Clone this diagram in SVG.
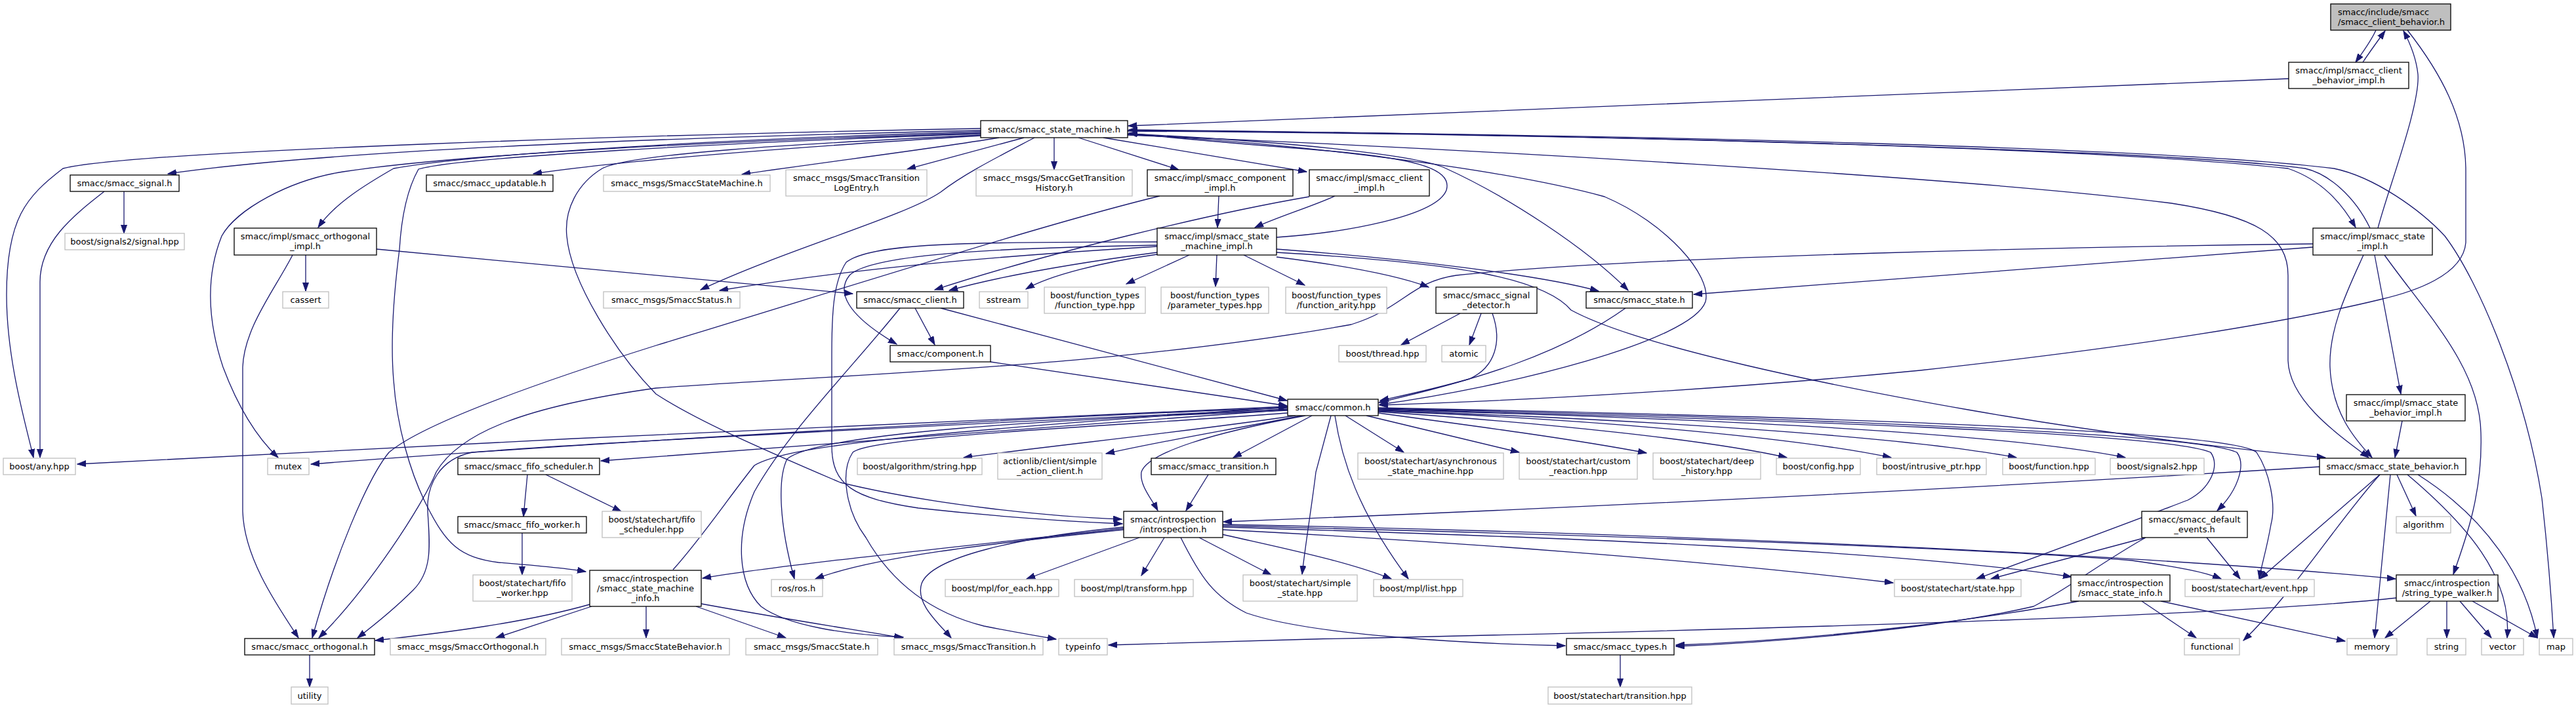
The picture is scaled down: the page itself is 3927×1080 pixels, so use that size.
<svg xmlns="http://www.w3.org/2000/svg" width="3927" height="1080" viewBox="0 0 3927 1080">
<style>
rect{stroke-width:1.3}
.n rect{fill:#fff;stroke:#000}
.x rect{fill:#fff;stroke:#bfbfbf}
.t rect{fill:#bfbfbf;stroke:#000}
text{font-family:"DejaVu Sans","Liberation Sans",sans-serif;font-size:13px;fill:#000;text-anchor:middle}
#edges path{fill:none;stroke:#191970;stroke-width:1.3}
</style>
<defs>
<marker id="a" markerUnits="userSpaceOnUse" markerWidth="14" markerHeight="10" refX="13" refY="5" orient="auto"><path d="M0,0.5 L13,5 L0,9.5 z" fill="#191970" stroke="#191970" stroke-width="1"/></marker>
</defs>
<rect width="3927" height="1080" fill="#fff"/>
<g id="edges" marker-end="url(#a)">
<path d="M3622,46 C3614,64 3600,82 3591,95"/>
<path d="M3602,95 C3612,80 3625,62 3636,47"/>
<path d="M3670,46 C3720,110 3759,180 3759,260 L3759,370 C3755,420 3680,445 3628,457 C3450,500 3200,535 2927,565 C2650,592 2350,610 2103,618"/>
<path d="M3625,348 C3640,290 3690,160 3686,113 C3683,85 3672,62 3664,47"/>
<path d="M3489,120 C3000,140 2200,172 1720,192"/>
<path d="M1495,199 C1000,210 500,230 256,265"/>
<path d="M1495,196 C1000,205 200,230 96,257 C40,300 10,333 10,450 C10,550 40,650 51,698"/>
<path d="M159,292 C110,330 61,370 61,430 L61,698"/>
<path d="M189,292 L189,356"/>
<path d="M1495,203 C1100,215 700,235 523,262 C440,275 360,320 338,360 C310,430 320,500 340,560 C370,640 405,680 424,698"/>
<path d="M1495,201 C1100,212 720,235 600,257 C560,280 510,310 485,347"/>
<path d="M1495,204 C1100,218 700,240 638,258 C620,290 612,330 609,380 C600,450 595,520 600,580 C605,650 625,720 650,770 C680,830 700,850 760,858 C810,862 860,866 893,872"/>
<path d="M1495,207 C1200,225 950,245 813,265"/>
<path d="M1523,210 C1400,230 1250,248 1131,266"/>
<path d="M1561,210 L1383,258"/>
<path d="M1607,210 L1607,259"/>
<path d="M1644,210 L1797,259"/>
<path d="M1682,210 L1992,262"/>
<path d="M1577,210 C1520,240 1470,265 1434,293 C1380,330 1200,380 1068,442"/>
<path d="M1768,299 C1600,340 1350,420 1000,527 C800,590 640,650 593,690 C560,730 510,850 476,973"/>
<path d="M1996,300 C1850,325 1600,385 1425,442"/>
<path d="M1858,299 L1856,347"/>
<path d="M2035,299 C2000,315 1950,330 1913,347"/>
<path d="M1495,206 C1200,220 960,235 918,257 C880,280 860,320 864,360 C870,430 940,540 1000,601 C1060,640 1150,680 1281,736 C1420,770 1600,788 1710,792"/>
<path d="M466,389 L466,444"/>
<path d="M574,380 L1300,448"/>
<path d="M446,389 C420,440 372,500 370,560 L370,780 C372,850 420,920 455,973"/>
<path d="M1764,376 C1500,392 1300,410 1097,443"/>
<path d="M1764,385 C1650,400 1530,420 1447,443"/>
<path d="M1764,388 C1680,400 1600,420 1564,441"/>
<path d="M1813,389 L1717,433"/>
<path d="M1855,389 L1853,437"/>
<path d="M1896,389 L1989,435"/>
<path d="M1764,374 C1550,378 1330,385 1295,420 C1275,445 1290,480 1367,525"/>
<path d="M1764,369 C1500,370 1330,368 1290,400 C1270,430 1268,480 1268,540 L1268,680 C1268,740 1300,760 1400,775 C1500,786 1620,795 1711,799"/>
<path d="M1946,392 C2050,405 2130,420 2178,438"/>
<path d="M1946,380 C2150,395 2350,420 2437,444"/>
<path d="M1946,385 C2200,400 2350,420 2395,473 C2500,530 2800,590 3000,625 C3200,660 3400,685 3545,698"/>
<path d="M1946,362 C2050,355 2190,330 2205,290 C2215,255 2150,240 2000,228 C1900,220 1780,210 1721,203"/>
<path d="M1395,470 L1425,526"/>
<path d="M1434,470 L1962,611"/>
<path d="M1510,552 L1962,619"/>
<path d="M1372,470 C1300,560 1200,660 1150,750 C1120,820 1125,890 1160,925 C1200,955 1290,968 1377,972"/>
<path d="M2226,478 L2136,526"/>
<path d="M2258,478 L2240,526"/>
<path d="M2275,478 C2290,520 2280,560 2240,578 C2180,595 2140,603 2104,611"/>
<path d="M2478,470 C2380,540 2250,580 2102,614"/>
<path d="M1719,205 C2000,220 2300,260 2446,300 C2540,340 2610,420 2600,460 C2580,520 2300,590 2103,617"/>
<path d="M1719,204 C1950,215 2150,235 2200,255 C2300,300 2420,380 2482,443"/>
<path d="M3526,377 L2582,449"/>
<path d="M3526,372 C3200,376 2500,390 2220,420 C2150,430 2140,470 2060,495 C1700,560 1300,570 1000,592 C800,620 700,660 665,720 C645,770 560,900 486,973"/>
<path d="M3603,389 C3580,440 3550,500 3552,560 C3555,630 3590,670 3616,698"/>
<path d="M3620,389 L3660,601"/>
<path d="M3635,389 C3700,480 3780,560 3782,660 C3785,750 3760,820 3740,876"/>
<path d="M3662,642 L3651,698"/>
<path d="M1719,200 C2400,205 3200,225 3488,257 C3540,275 3570,310 3591,347"/>
<path d="M3613,348 C3590,300 3550,265 3514,257 C3300,228 2400,205 1721,198"/>
<path d="M1719,206 C2200,225 3000,270 3310,310 C3440,330 3488,360 3488,420 L3488,550 C3490,610 3560,660 3611,698"/>
<path d="M1719,199 C2500,205 3300,225 3558,257 C3620,270 3690,320 3727,360 C3780,430 3850,600 3875,760 C3885,850 3890,920 3893,973"/>
<path d="M1963,620 C1500,640 700,675 118,708"/>
<path d="M1963,622 C1600,635 900,675 474,708"/>
<path d="M1963,625 C1600,650 1200,685 916,703"/>
<path d="M1963,624 C1500,645 900,675 720,690 C670,700 650,740 652,780 C655,830 660,870 630,900 C600,930 575,950 545,973"/>
<path d="M1963,626 C1600,640 1250,660 1200,700 C1185,730 1188,800 1211,883"/>
<path d="M1963,630 C1700,650 1330,665 1300,690 C1280,720 1290,780 1320,820 C1360,890 1420,935 1500,955 C1550,965 1580,970 1610,975"/>
<path d="M1026,869 C1070,820 1110,760 1150,710 C1200,680 1400,660 1962,621"/>
<path d="M1975,634 C1800,660 1600,680 1469,698"/>
<path d="M1985,634 C1850,660 1760,675 1686,692"/>
<path d="M2000,634 L1880,698"/>
<path d="M1990,634 C1850,660 1750,690 1740,720 C1737,740 1755,760 1765,779"/>
<path d="M1842,724 L1808,779"/>
<path d="M2051,634 L2140,690"/>
<path d="M2083,634 L2316,690"/>
<path d="M2101,630 C2250,650 2400,670 2510,691"/>
<path d="M2101,628 C2350,645 2600,670 2724,698"/>
<path d="M2101,627 C2450,640 2750,670 2883,698"/>
<path d="M2101,626 C2500,640 2900,665 3074,698"/>
<path d="M2101,625 C2600,638 3050,660 3240,698"/>
<path d="M2101,624 C2700,640 3300,660 3370,690 C3385,710 3370,745 3335,763 C3290,780 3240,800 3013,883"/>
<path d="M2101,623 C2700,636 3350,660 3410,690 C3425,710 3410,750 3380,779"/>
<path d="M2101,622 C2700,634 3400,655 3440,690 C3460,720 3470,770 3462,800 C3455,840 3448,860 3444,883"/>
<path d="M2029,634 L2006,720 C2000,770 1990,830 1985,876"/>
<path d="M2035,634 C2045,700 2070,780 2147,883"/>
<path d="M804,724 L798,788"/>
<path d="M832,724 L947,780"/>
<path d="M796,813 L796,877"/>
<path d="M899,922 C800,950 680,965 572,977"/>
<path d="M902,925 L756,973"/>
<path d="M985,925 L985,973"/>
<path d="M1061,925 L1198,973"/>
<path d="M1069,921 C1200,945 1300,960 1376,973"/>
<path d="M472,999 L472,1048"/>
<path d="M1713,806 C1500,830 1200,860 1071,882"/>
<path d="M1713,808 C1500,830 1330,850 1243,883"/>
<path d="M1737,820 L1565,883"/>
<path d="M1775,820 L1740,878"/>
<path d="M1828,820 L1938,877"/>
<path d="M1713,804 C1550,820 1420,850 1405,890 C1395,920 1430,950 1450,973"/>
<path d="M1863,808 C2200,825 2600,855 2886,889"/>
<path d="M1863,815 C1950,835 2050,855 2121,883"/>
<path d="M1800,820 C1830,880 1850,910 1900,935 C2000,970 2250,982 2386,985"/>
<path d="M3536,712 C3000,745 2400,775 1865,796"/>
<path d="M1863,800 C2400,810 3200,840 3652,883"/>
<path d="M1863,802 C2400,815 3000,835 3250,855 C3320,865 3360,872 3386,883"/>
<path d="M1863,804 C2400,820 2900,840 3158,880"/>
<path d="M3271,820 L3035,883"/>
<path d="M3364,820 L3415,883"/>
<path d="M3271,820 C3200,860 3150,900 3100,925 C2950,960 2700,980 2555,986"/>
<path d="M3169,917 C3050,940 2800,975 2555,984"/>
<path d="M3265,917 L3348,973"/>
<path d="M3294,917 L3575,978"/>
<path d="M3654,724 L3683,787"/>
<path d="M3628,724 C3560,800 3500,900 3420,977"/>
<path d="M3628,724 L3445,883"/>
<path d="M3644,724 L3620,973"/>
<path d="M3670,724 C3760,800 3830,880 3822,973"/>
<path d="M3686,724 C3790,790 3850,880 3868,973"/>
<path d="M3705,917 L3636,973"/>
<path d="M3730,917 L3730,973"/>
<path d="M3750,917 L3798,973"/>
<path d="M3769,917 L3868,973"/>
<path d="M3654,912 C3400,940 2700,960 2000,975 C1850,980 1750,982 1690,984"/>
<path d="M2470,999 L2470,1048"/>
</g>
<g id="n-target" class="t"><rect x="3553" y="6" width="183" height="40"/><text x="3564" y="22.5" style="text-anchor:start">smacc/include/smacc</text><text x="3564" y="37.5" style="text-anchor:start">/smacc_client_behavior.h</text></g>
<g id="n-client-behavior-impl" class="n"><rect x="3489" y="95" width="183" height="40"/><text x="3580.5" y="111.5">smacc/impl/smacc_client</text><text x="3580.5" y="126.5">_behavior_impl.h</text></g>
<g id="n-state-machine" class="n"><rect x="1495" y="184" width="224" height="26"/><text x="1607" y="201.5">smacc/smacc_state_machine.h</text></g>
<g id="n-signal" class="n"><rect x="107" y="267" width="166" height="25"/><text x="190" y="284">smacc/smacc_signal.h</text></g>
<g id="n-updatable" class="n"><rect x="650" y="267" width="193" height="25"/><text x="746.5" y="284">smacc/smacc_updatable.h</text></g>
<g id="n-msg-sm" class="x"><rect x="920" y="267" width="254" height="25"/><text x="1047" y="284">smacc_msgs/SmaccStateMachine.h</text></g>
<g id="n-msg-tle" class="x"><rect x="1198" y="259" width="215" height="40"/><text x="1305.5" y="275.5">smacc_msgs/SmaccTransition</text><text x="1305.5" y="290.5">LogEntry.h</text></g>
<g id="n-msg-gth" class="x"><rect x="1488" y="259" width="238" height="40"/><text x="1607" y="275.5">smacc_msgs/SmaccGetTransition</text><text x="1607" y="290.5">History.h</text></g>
<g id="n-component-impl" class="n"><rect x="1749" y="259" width="222" height="40"/><text x="1860" y="275.5">smacc/impl/smacc_component</text><text x="1860" y="290.5">_impl.h</text></g>
<g id="n-client-impl" class="n"><rect x="1996" y="259" width="183" height="40"/><text x="2087.5" y="275.5">smacc/impl/smacc_client</text><text x="2087.5" y="290.5">_impl.h</text></g>
<g id="n-state-impl" class="n"><rect x="3526" y="348" width="182" height="41"/><text x="3617" y="364.5">smacc/impl/smacc_state</text><text x="3617" y="379.5">_impl.h</text></g>
<g id="n-orthogonal-impl" class="n"><rect x="357" y="348" width="217" height="41"/><text x="465.5" y="364.5">smacc/impl/smacc_orthogonal</text><text x="465.5" y="379.5">_impl.h</text></g>
<g id="n-sm-impl" class="n"><rect x="1764" y="348" width="182" height="41"/><text x="1855" y="364.5">smacc/impl/smacc_state</text><text x="1855" y="379.5">_machine_impl.h</text></g>
<g id="n-signals2-signal" class="x"><rect x="99" y="356" width="182" height="25"/><text x="190" y="373">boost/signals2/signal.hpp</text></g>
<g id="n-cassert" class="x"><rect x="431" y="445" width="70" height="25"/><text x="466" y="462">cassert</text></g>
<g id="n-msg-status" class="x"><rect x="920" y="445" width="208" height="25"/><text x="1024" y="462">smacc_msgs/SmaccStatus.h</text></g>
<g id="n-client" class="n"><rect x="1306" y="445" width="163" height="25"/><text x="1387.5" y="462">smacc/smacc_client.h</text></g>
<g id="n-sstream" class="x"><rect x="1493" y="445" width="74" height="25"/><text x="1530" y="462">sstream</text></g>
<g id="n-ft-function-type" class="x"><rect x="1592" y="438" width="154" height="40"/><text x="1669" y="454.5">boost/function_types</text><text x="1669" y="469.5">/function_type.hpp</text></g>
<g id="n-ft-parameter-types" class="x"><rect x="1770" y="438" width="164" height="40"/><text x="1852" y="454.5">boost/function_types</text><text x="1852" y="469.5">/parameter_types.hpp</text></g>
<g id="n-ft-function-arity" class="x"><rect x="1960" y="438" width="154" height="40"/><text x="2037" y="454.5">boost/function_types</text><text x="2037" y="469.5">/function_arity.hpp</text></g>
<g id="n-signal-detector" class="n"><rect x="2189" y="438" width="154" height="40"/><text x="2266" y="454.5">smacc/smacc_signal</text><text x="2266" y="469.5">_detector.h</text></g>
<g id="n-state" class="n"><rect x="2418" y="445" width="162" height="25"/><text x="2499" y="462">smacc/smacc_state.h</text></g>
<g id="n-component" class="n"><rect x="1357" y="527" width="153" height="25"/><text x="1433.5" y="544">smacc/component.h</text></g>
<g id="n-thread" class="x"><rect x="2041" y="527" width="133" height="25"/><text x="2107.5" y="544">boost/thread.hpp</text></g>
<g id="n-atomic" class="x"><rect x="2198" y="527" width="67" height="25"/><text x="2231.5" y="544">atomic</text></g>
<g id="n-state-behavior-impl" class="n"><rect x="3577" y="602" width="181" height="40"/><text x="3667.5" y="618.5">smacc/impl/smacc_state</text><text x="3667.5" y="633.5">_behavior_impl.h</text></g>
<g id="n-common" class="n"><rect x="1963" y="609" width="138" height="25"/><text x="2032" y="626">smacc/common.h</text></g>
<g id="n-any" class="x"><rect x="5" y="699" width="110" height="25"/><text x="60" y="716">boost/any.hpp</text></g>
<g id="n-mutex" class="x"><rect x="408" y="699" width="63" height="25"/><text x="439.5" y="716">mutex</text></g>
<g id="n-fifo-scheduler" class="n"><rect x="698" y="699" width="216" height="25"/><text x="806" y="716">smacc/smacc_fifo_scheduler.h</text></g>
<g id="n-algo-string" class="x"><rect x="1307" y="699" width="190" height="25"/><text x="1402" y="716">boost/algorithm/string.hpp</text></g>
<g id="n-sac" class="x"><rect x="1521" y="691" width="159" height="40"/><text x="1600.5" y="707.5">actionlib/client/simple</text><text x="1600.5" y="722.5">_action_client.h</text></g>
<g id="n-transition" class="n"><rect x="1755" y="699" width="190" height="25"/><text x="1850" y="716">smacc/smacc_transition.h</text></g>
<g id="n-async-sm" class="x"><rect x="2070" y="691" width="222" height="40"/><text x="2181" y="707.5">boost/statechart/asynchronous</text><text x="2181" y="722.5">_state_machine.hpp</text></g>
<g id="n-custom-reaction" class="x"><rect x="2316" y="691" width="180" height="40"/><text x="2406" y="707.5">boost/statechart/custom</text><text x="2406" y="722.5">_reaction.hpp</text></g>
<g id="n-deep-history" class="x"><rect x="2520" y="691" width="164" height="40"/><text x="2602" y="707.5">boost/statechart/deep</text><text x="2602" y="722.5">_history.hpp</text></g>
<g id="n-config" class="x"><rect x="2708" y="699" width="128" height="25"/><text x="2772" y="716">boost/config.hpp</text></g>
<g id="n-intrusive" class="x"><rect x="2861" y="699" width="167" height="25"/><text x="2944.5" y="716">boost/intrusive_ptr.hpp</text></g>
<g id="n-function" class="x"><rect x="3053" y="699" width="141" height="25"/><text x="3123.5" y="716">boost/function.hpp</text></g>
<g id="n-signals2" class="x"><rect x="3217" y="699" width="143" height="25"/><text x="3288.5" y="716">boost/signals2.hpp</text></g>
<g id="n-state-behavior" class="n"><rect x="3536" y="699" width="223" height="25"/><text x="3647.5" y="716">smacc/smacc_state_behavior.h</text></g>
<g id="n-fifo-worker" class="n"><rect x="698" y="788" width="196" height="25"/><text x="796" y="805">smacc/smacc_fifo_worker.h</text></g>
<g id="n-sc-fifo-scheduler" class="x"><rect x="918" y="780" width="151" height="40"/><text x="993.5" y="796.5">boost/statechart/fifo</text><text x="993.5" y="811.5">_scheduler.hpp</text></g>
<g id="n-introspection" class="n"><rect x="1713" y="780" width="151" height="40"/><text x="1788.5" y="796.5">smacc/introspection</text><text x="1788.5" y="811.5">/introspection.h</text></g>
<g id="n-default-events" class="n"><rect x="3265" y="780" width="161" height="40"/><text x="3345.5" y="796.5">smacc/smacc_default</text><text x="3345.5" y="811.5">_events.h</text></g>
<g id="n-algorithm" class="x"><rect x="3653" y="788" width="83" height="25"/><text x="3694.5" y="805">algorithm</text></g>
<g id="n-sc-fifo-worker" class="x"><rect x="721" y="877" width="151" height="40"/><text x="796.5" y="893.5">boost/statechart/fifo</text><text x="796.5" y="908.5">_worker.hpp</text></g>
<g id="n-sm-info" class="n"><rect x="899" y="870" width="170" height="55"/><text x="984" y="886.5">smacc/introspection</text><text x="984" y="901.5">/smacc_state_machine</text><text x="984" y="916.5">_info.h</text></g>
<g id="n-ros" class="x"><rect x="1176" y="884" width="78" height="26"/><text x="1215" y="901.5">ros/ros.h</text></g>
<g id="n-for-each" class="x"><rect x="1441" y="884" width="173" height="26"/><text x="1527.5" y="901.5">boost/mpl/for_each.hpp</text></g>
<g id="n-transform" class="x"><rect x="1638" y="884" width="181" height="26"/><text x="1728.5" y="901.5">boost/mpl/transform.hpp</text></g>
<g id="n-simple-state" class="x"><rect x="1895" y="877" width="174" height="40"/><text x="1982" y="893.5">boost/statechart/simple</text><text x="1982" y="908.5">_state.hpp</text></g>
<g id="n-mpl-list" class="x"><rect x="2094" y="884" width="136" height="26"/><text x="2162" y="901.5">boost/mpl/list.hpp</text></g>
<g id="n-sc-state" class="x"><rect x="2888" y="884" width="193" height="26"/><text x="2984.5" y="901.5">boost/statechart/state.hpp</text></g>
<g id="n-state-info" class="n"><rect x="3157" y="877" width="151" height="40"/><text x="3232.5" y="893.5">smacc/introspection</text><text x="3232.5" y="908.5">/smacc_state_info.h</text></g>
<g id="n-sc-event" class="x"><rect x="3331" y="884" width="197" height="26"/><text x="3429.5" y="901.5">boost/statechart/event.hpp</text></g>
<g id="n-string-type-walker" class="n"><rect x="3653" y="877" width="155" height="40"/><text x="3730.5" y="893.5">smacc/introspection</text><text x="3730.5" y="908.5">/string_type_walker.h</text></g>
<g id="n-orthogonal" class="n"><rect x="373" y="974" width="198" height="25"/><text x="472" y="991">smacc/smacc_orthogonal.h</text></g>
<g id="n-msg-orthogonal" class="x"><rect x="595" y="974" width="237" height="25"/><text x="713.5" y="991">smacc_msgs/SmaccOrthogonal.h</text></g>
<g id="n-msg-state-behavior" class="x"><rect x="856" y="974" width="256" height="25"/><text x="984" y="991">smacc_msgs/SmaccStateBehavior.h</text></g>
<g id="n-msg-state" class="x"><rect x="1137" y="974" width="201" height="25"/><text x="1237.5" y="991">smacc_msgs/SmaccState.h</text></g>
<g id="n-msg-transition" class="x"><rect x="1363" y="974" width="227" height="25"/><text x="1476.5" y="991">smacc_msgs/SmaccTransition.h</text></g>
<g id="n-typeinfo" class="x"><rect x="1614" y="974" width="74" height="25"/><text x="1651" y="991">typeinfo</text></g>
<g id="n-types" class="n"><rect x="2388" y="974" width="164" height="25"/><text x="2470" y="991">smacc/smacc_types.h</text></g>
<g id="n-functional" class="x"><rect x="3330" y="974" width="84" height="25"/><text x="3372" y="991">functional</text></g>
<g id="n-memory" class="x"><rect x="3578" y="974" width="76" height="25"/><text x="3616" y="991">memory</text></g>
<g id="n-string" class="x"><rect x="3700" y="974" width="59" height="25"/><text x="3729.5" y="991">string</text></g>
<g id="n-vector" class="x"><rect x="3783" y="974" width="64" height="25"/><text x="3815" y="991">vector</text></g>
<g id="n-map" class="x"><rect x="3871" y="974" width="51" height="25"/><text x="3896.5" y="991">map</text></g>
<g id="n-utility" class="x"><rect x="444" y="1048" width="56" height="26"/><text x="472" y="1065.5">utility</text></g>
<g id="n-sc-transition" class="x"><rect x="2360" y="1048" width="219" height="26"/><text x="2469.5" y="1065.5">boost/statechart/transition.hpp</text></g>
</svg>
